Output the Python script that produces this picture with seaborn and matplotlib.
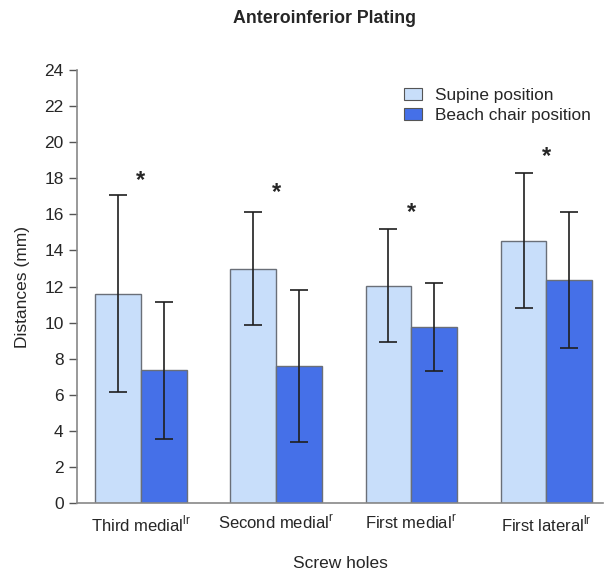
import numpy as np
import pandas as pd
import matplotlib
matplotlib.use("Agg")
import matplotlib.pyplot as plt
import seaborn as sns
from matplotlib.patches import Patch

# data
holes = ["Third medial$^{\\mathregular{lr}}$", "Second medial$^{\\mathregular{r}}$",
         "First medial$^{\\mathregular{r}}$", "First lateral$^{\\mathregular{lr}}$"]
supine_mean = [11.6, 13.0, 12.05, 14.55]
supine_sd = [5.45, 3.15, 3.15, 3.75]
beach_mean = [7.35, 7.6, 9.77, 12.35]
beach_sd = [3.8, 4.2, 2.45, 3.78]
star_y = [17.9, 17.2, 16.1, 19.2]

positions = ["Supine position", "Beach chair position"]
colors = ["#C8DEFA", "#4570E8"]

df = pd.DataFrame({
    "hole": holes * 2,
    "position": [positions[0]] * 4 + [positions[1]] * 4,
    "mean": supine_mean + beach_mean,
    "sd": supine_sd + beach_sd,
})

sns.set_style("ticks")
plt.rcParams["font.family"] = ["Liberation Sans", "DejaVu Sans"]

fig = plt.figure(figsize=(6.05, 5.7), dpi=100)
ax = fig.add_axes([0.127, 0.1175, 0.87, 0.7595])

sns.barplot(data=df, x="hole", y="mean", hue="position", palette=colors,
            width=0.675, gap=0, errorbar=None, ax=ax, legend=False,
            edgecolor="#6a6f78", linewidth=1.0, saturation=1)

# error bars at the bar centres
for bars, sds in zip(ax.containers, [supine_sd, beach_sd]):
    xs = [b.get_x() + b.get_width() / 2 for b in bars]
    ys = [b.get_height() for b in bars]
    ax.errorbar(xs, ys, yerr=sds, fmt="none", ecolor="#1f1f1f",
                elinewidth=1.2, capsize=6.2, capthick=1.2, zorder=5)

for i, y in enumerate(star_y):
    ax.text(i, y, "*", ha="center", va="center", fontsize=17, fontweight="bold")

ax.set_ylim(0, 24)
ax.set_yticks(np.arange(0, 25, 2))
ax.set_xlim(-0.474, 3.42)
ax.tick_params(axis="x", length=0, labelsize=12, pad=8)
ax.tick_params(axis="y", length=6, labelsize=12.5, color="#555555", width=1)
ax.set_xlabel("Screw holes", fontsize=12.5, labelpad=15)
ax.set_ylabel("Distances (mm)", fontsize=12.5, labelpad=10)
sns.despine(ax=ax)
for s in ["left", "bottom"]:
    ax.spines[s].set_color("#888888")
    ax.spines[s].set_linewidth(1.2)

handles = [Patch(facecolor=c, edgecolor="#555555", linewidth=0.8) for c in colors]
ax.legend(handles, positions, loc="upper left", bbox_to_anchor=(0.593, 0.995),
          frameon=False, fontsize=12.4, handlelength=1.0, handleheight=0.7,
          handletextpad=0.8, labelspacing=0.3)

fig.text(0.536, 0.967, "Anteroinferior Plating", ha="center", va="center",
         fontsize=12.8, fontweight="bold")

fig.savefig("out.png", dpi=100, facecolor="white")
